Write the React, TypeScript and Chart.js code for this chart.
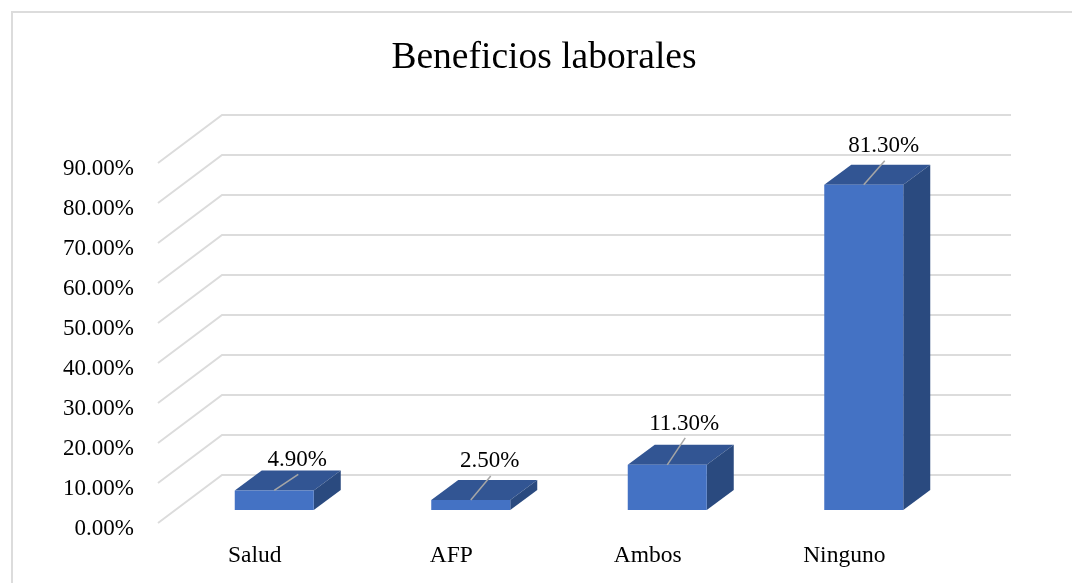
import React, { useEffect, useRef } from "react";
import { Chart, registerables } from "chart.js";

Chart.register(...registerables);

const titleText = "Beneficios laborales";
const categories = ["Salud", "AFP", "Ambos", "Ninguno"];
const percentages = [4.9, 2.5, 11.3, 81.3];
const dataLabels = ["4.90%", "2.50%", "11.30%", "81.30%"];

const SERIF = "'Liberation Serif', 'Times New Roman', serif";
const FRONT = { dx: -18, dy: 13 };
const BACK = { dx: 46, dy: -35 };
const GRID_RIGHT = 1011;
const DEPTH = { dx: 27, dy: -20 };
const LEADERS = [
  { dx: 24, dy: -16, tx: 23, ty: -30 },
  { dx: 20, dy: -24, tx: 19, ty: -39 },
  { dx: 18, dy: -27, tx: 17, ty: -41 },
  { dx: 21, dy: -24, tx: 20, ty: -39 },
];

const frame3d = {
  id: "frame3d",
  beforeDraw(chart: any) {
    const { ctx, width } = chart;
    if (chart.titleBlock) {
      chart.titleBlock.left = 16;
      chart.titleBlock.right = width;
    }
    ctx.save();
    ctx.strokeStyle = "#dcdcdc";
    ctx.lineWidth = 2;
    ctx.beginPath();
    ctx.moveTo(12, 583);
    ctx.lineTo(12, 12);
    ctx.lineTo(width, 12);
    ctx.stroke();
    ctx.restore();
  },
  beforeDatasetsDraw(chart: any) {
    const { ctx, scales, chartArea } = chart;
    const y = scales.y;
    ctx.save();
    ctx.strokeStyle = "#dcdcdc";
    ctx.lineWidth = 2;
    y.ticks.forEach((t: any) => {
      const py = y.getPixelForValue(t.value);
      ctx.beginPath();
      ctx.moveTo(chartArea.left + FRONT.dx, py + FRONT.dy);
      ctx.lineTo(chartArea.left + BACK.dx, py + BACK.dy);
      ctx.lineTo(GRID_RIGHT, py + BACK.dy);
      ctx.stroke();
    });
    ctx.restore();
  },
  beforeDatasetDraw(chart: any) {
    const { ctx } = chart;
    const meta = chart.getDatasetMeta(0);
    ctx.save();
    meta.data.forEach((bar: any) => {
      const half = bar.width / 2;
      const l = bar.x - half;
      const r = bar.x + half;
      const t = bar.y;
      const b = bar.base;
      ctx.fillStyle = "#325593";
      ctx.beginPath();
      ctx.moveTo(l, t);
      ctx.lineTo(l + DEPTH.dx, t + DEPTH.dy);
      ctx.lineTo(r + DEPTH.dx, t + DEPTH.dy);
      ctx.lineTo(r, t);
      ctx.closePath();
      ctx.fill();
      ctx.fillStyle = "#2a4a7f";
      ctx.beginPath();
      ctx.moveTo(r, t);
      ctx.lineTo(r + DEPTH.dx, t + DEPTH.dy);
      ctx.lineTo(r + DEPTH.dx, b + DEPTH.dy);
      ctx.lineTo(r, b);
      ctx.closePath();
      ctx.fill();
    });
    ctx.restore();
  },
  afterDatasetsDraw(chart: any) {
    const { ctx } = chart;
    const meta = chart.getDatasetMeta(0);
    ctx.save();
    meta.data.forEach((bar: any, i: number) => {
      const o = LEADERS[i];
      ctx.strokeStyle = "#a6a6a6";
      ctx.lineWidth = 1.5;
      ctx.beginPath();
      ctx.moveTo(bar.x, bar.y);
      ctx.lineTo(bar.x + o.dx, bar.y + o.dy);
      ctx.stroke();
      ctx.fillStyle = "#000000";
      ctx.font = `23px ${SERIF}`;
      ctx.textAlign = "center";
      ctx.textBaseline = "middle";
      ctx.fillText(dataLabels[i], bar.x + o.tx, bar.y + o.ty);
    });
    ctx.restore();
  },
};

export default function App() {
  const ref = useRef<HTMLCanvasElement>(null);
  useEffect(() => {
    document.body.style.margin = "0";
    const chart = new Chart(ref.current!, {
      type: "bar",
      data: {
        labels: categories,
        datasets: [
          {
            data: percentages,
            backgroundColor: "#4472c4",
            borderWidth: 0,
            barPercentage: 1,
            categoryPercentage: 0.402,
          },
        ],
      },
      options: {
        responsive: false,
        animation: false,
        layout: { padding: { left: 16, right: 110, top: 0, bottom: 0 } },
        plugins: {
          legend: { display: false },
          tooltip: { enabled: false },
          title: {
            display: true,
            text: titleText,
            color: "#000000",
            font: { family: SERIF, size: 37.5, weight: "normal" },
            padding: { top: 35.5, bottom: 69.5 },
          },
        },
        scales: {
          x: {
            grid: { display: false },
            border: { display: false },
            afterFit(s: any) {
              s.height = 73;
            },
            ticks: {
              color: "#000000",
              font: { family: SERIF, size: 23.5 },
              padding: 24,
              labelOffset: -19.5,
              maxRotation: 0,
              autoSkip: false,
            },
          },
          y: {
            min: 0,
            max: 90,
            grid: { display: false, drawTicks: false },
            border: { display: false },
            afterFit(s: any) {
              s.width = 160;
            },
            ticks: {
              stepSize: 10,
              color: "#000000",
              font: { family: SERIF, size: 23 },
              padding: 42,
              labelOffset: 19,
              callback: (v: any) => Number(v).toFixed(2) + "%",
            },
          },
        },
      },
      plugins: [frame3d],
    } as any);
    return () => chart.destroy();
  }, []);
  return (
    <div style={{ width: 1072, height: 583, overflow: "hidden" }}>
      <canvas ref={ref} width={1072} height={583} style={{ display: "block" }} />
    </div>
  );
}
